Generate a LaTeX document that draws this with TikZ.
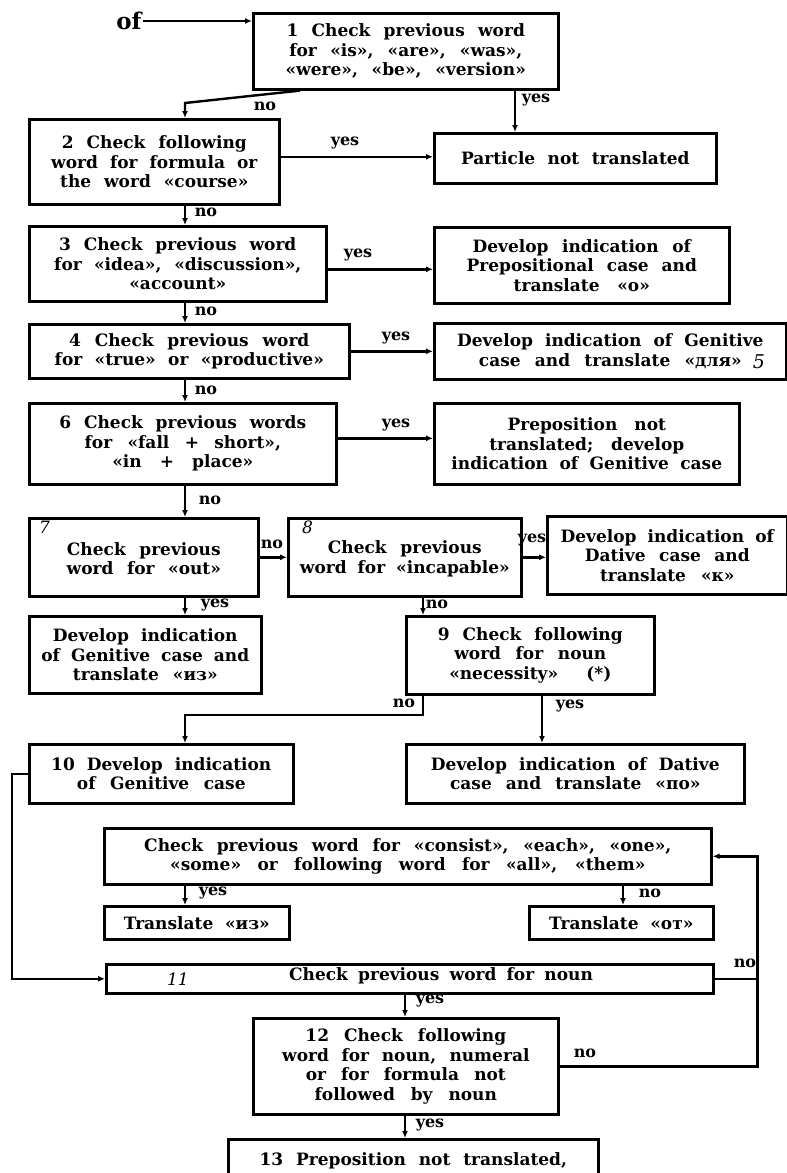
\documentclass[tikz,border=0pt]{standalone}
\usepackage{fontspec}
\setmainfont{DejaVu Serif}
\usetikzlibrary{arrows.meta}
\newcommand\wsp{\spaceskip=0.6em plus 0.2em minus 0.1em\relax}
\newcommand\boxfont{\bfseries\fontsize{17}{19.5}\selectfont}
\tikzset{
 box/.style={draw, line width=2.6pt, inner sep=2pt, align=center, font=\boxfont},
 lab/.style={font=\bfseries\fontsize{16}{16}\selectfont, inner sep=1pt},
 num/.style={font=\itshape\fontsize{17}{17}\selectfont, inner sep=1pt},
 txt/.style={font=\boxfont, inner sep=1pt},
 conn/.style={line width=2.4pt, -{Latex[length=7pt,width=6pt]}},
 ln/.style={line width=2.4pt},
}
\newcommand\mybox[6]{%
 \pgfmathsetmacro\bxw{#4-#2}\pgfmathsetmacro\bxh{#5-#3}\pgfmathsetmacro\bxt{#4-#2-8}%
 \node[box, minimum width=\bxw pt, minimum height=\bxh pt, text width=\bxt pt, anchor=north west] (#1) at (#2,#3) {\wsp #6};}
\begin{document}
\begin{tikzpicture}[x=1pt,y=-1pt]
\useasboundingbox (0,0) rectangle (787,1173);
\fill[white] (0,0) rectangle (787,1173);

\node[font=\bfseries\fontsize{23}{23}\selectfont, inner sep=1pt] (of) at (129,21) {of};

\mybox{b1}{252}{12}{557}{88}{1~Check previous word\\ for «is», «are», «was»,\\ «were», «be», «version»}
\mybox{b2}{28}{118}{278}{203}{2~Check following\\ word for formula or\\ the word «course»}
\mybox{part}{433}{132}{715}{182}{Particle not translated}
\mybox{b3}{28}{225}{325}{300}{3~Check previous word\\ for «idea», «discussion»,\\ «account»}
\mybox{prep}{433}{226}{728}{302}{Develop indication of\\ Prepositional case and\\ translate «о»}
\mybox{b4}{28}{323}{348}{377}{4~Check previous word\\ for «true» or «productive»}
\mybox{g5}{433}{322}{785}{378}{Develop indication of Genitive\\ case and translate «для»\hspace{2.2em}}
\node[num, font=\itshape\fontsize{19}{19}\selectfont] at (759,362) {5};
\mybox{b6}{28}{402}{335}{483}{6~Check previous words\\ for «fall + short»,\\ «in + place»}
\mybox{pn}{433}{402}{738}{483}{Preposition not\\ translated; develop\\ indication of Genitive case}
\mybox{b7}{28}{517}{257}{595}{\\[-4pt]Check previous\\ word for «out»}
\node[num, anchor=north west] at ([xshift=10pt,yshift=-3pt]b7.north west) {7};
\mybox{b8}{287}{517}{520}{595}{\\[-4pt]Check previous\\ word for «incapable»}
\node[num, anchor=north west] at ([xshift=14pt,yshift=-3pt]b8.north west) {8};
\mybox{dk}{546}{515}{786}{593}{Develop indication of\\ Dative case and\\ translate «к»}
\mybox{giz}{28}{615}{260}{692}{Develop indication\\ of Genitive case and\\ translate «из»}
\mybox{b9}{405}{615}{653}{693}{9~Check following\\ word for noun\\ «necessity»~~(*)}
\mybox{b10}{28}{743}{292}{802}{10~Develop indication\\ of Genitive case}
\mybox{dpo}{405}{743}{743}{802}{Develop indication of Dative\\ case and translate «по»}
\mybox{cons}{103}{827}{710}{883}{Check previous word for «consist», «each», «one»,\\ «some» or following word for «all», «them»}
\mybox{triz}{103}{905}{288}{938}{Translate «из»}
\mybox{trot}{528}{905}{712}{938}{Translate «от»}
\mybox{b11}{105}{963}{712}{992}{}
\node[num] at (178,979) {11};
\node[txt] at (441,976) {\wsp Check previous word for noun};
\mybox{b12}{252}{1017}{557}{1113}{12~Check following\\ word for noun, numeral\\ or for formula not\\ followed by noun}
\mybox{b13}{227}{1138}{597}{1180}{13~Preposition not translated,}

% connectors
\draw[conn] (of.east) -- (of.east -| b1.west);
\draw[conn] ([xshift=48pt]b1.south west) -- (185,103) -- ([xshift=157pt]b2.north west);
\node[lab] at (265,106) {no};
\draw[conn] ([xshift=263pt]b1.south west) -- ([xshift=82pt]part.north west);
\node[lab] at (536,100) {yes};
\draw[conn] ([yshift=5pt]b2.east) coordinate (t1) -- (t1 -| part.west);
\node[lab] at (345,143) {yes};
\draw[conn] ([xshift=157pt]b2.south west) -- ([xshift=157pt]b3.north west);
\node[lab] at (206,212) {no};
\draw[conn] ([yshift=-5.5pt]b3.east) coordinate (t2) -- (t2 -| prep.west);
\node[lab] at (358,255) {yes};
\draw[conn] ([xshift=157pt]b3.south west) -- ([xshift=157pt]b4.north west);
\node[lab] at (206,311) {no};
\draw[conn] (b4.east) -- (b4.east -| g5.west);
\node[lab] at (396,338) {yes};
\draw[conn] ([xshift=157pt]b4.south west) -- ([xshift=157pt]b6.north west);
\node[lab] at (206,390) {no};
\draw[conn] ([yshift=5.5pt]b6.east) coordinate (t3) -- (t3 -| pn.west);
\node[lab] at (396,425) {yes};
\draw[conn] ([xshift=157pt]b6.south west) -- ([xshift=157pt]b7.north west);
\node[lab] at (210,500) {no};
\draw[conn] (b7.east) -- (b7.east -| b8.west);
\node[lab] at (272,544) {no};
\draw[conn] (b8.east) -- (b8.east -| dk.west);
\node[lab] at (532,540) {yes};
\draw[conn] ([xshift=157pt]b7.south west) -- ([xshift=157pt]giz.north west);
\node[lab] at (215,605) {yes};
\draw[conn] ([xshift=136pt]b8.south west) -- ([xshift=18pt]b9.north west);
\node[lab] at (437,604) {no};
\draw[conn] ([xshift=18pt]b9.south west) -- (423,715) -- (185,715) -- ([xshift=157pt]b10.north west);
\node[lab] at (404,703) {no};
\draw[conn] ([xshift=137pt]b9.south west) -- ([xshift=137pt]dpo.north west);
\node[lab] at (570,706) {yes};
\draw[conn] (b10.west) -- ++(-16,0) |- (b11.west);
\draw[conn] ([xshift=82pt]cons.south west) -- ([xshift=82pt]triz.north west);
\node[lab] at (213,893) {yes};
\draw[conn] ([xshift=520pt]cons.south west) -- ([xshift=95pt]trot.north west);
\node[lab] at (650,893) {no};
\draw[conn] (b11.east) -- ++(43,0) coordinate (rr) |- (cons.east);
\node[lab] at (745,963) {no};
\draw[ln] (b12.east) -| (rr);
\node[lab] at (585,1053) {no};
\draw[conn] ([xshift=300pt]b11.south west) -- ([xshift=153pt]b12.north west);
\node[lab] at (430,1001) {yes};
\draw[conn] ([xshift=153pt]b12.south west) -- ([xshift=178pt]b13.north west);
\node[lab] at (430,1125) {yes};
\end{tikzpicture}
\end{document}
